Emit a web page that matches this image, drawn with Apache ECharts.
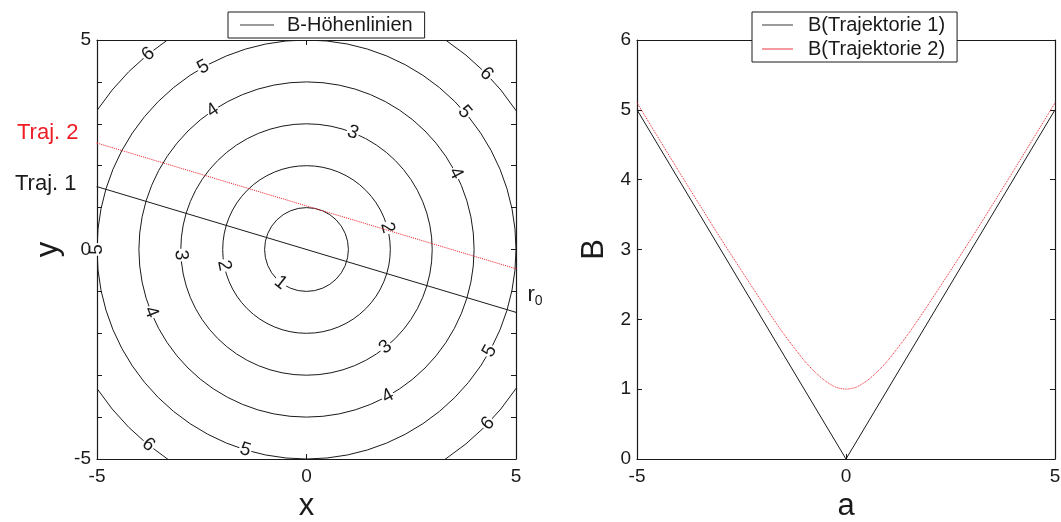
<!DOCTYPE html>
<html>
<head>
<meta charset="utf-8">
<script src="https://cdn.jsdelivr.net/npm/echarts@6/dist/echarts.min.js"></script>
<style>
  html, body { margin: 0; padding: 0; background: #fff; }
  #chart { width: 1061px; height: 522px; }
</style>
</head>
<body>
<div id="chart"></div>
<script>
// B field contour levels (B = |r|), drawn as circles around the origin
const contourLevels = [1, 2, 3, 4, 5, 6];

// inline contour labels: level value and polar angle (deg) where each sits on its contour
const contourLabelLevels = [6, 5, 4, 3, 6, 5, 4, 2, 5, 3, 2, 1, 4, 3, 4, 5, 6, 6, 5];
const contourLabelAngles = [129, 119.5, 124, 68.4, 44.3, 41, 27, 15, 180, 182.5, 191, 232, 202, -51, -61, -29, -43.8, 231, 253];

// trajectories through the field (x, y endpoints)
const traj1X = [-5, 5];
const traj1Y = [1.5, -1.5];
const traj2X = [-5, 5];
const traj2Y = [2.54, -0.46];

// B along each trajectory as a function of path parameter a
const traj1A = [-5, 0, 5];
const traj1B = [5, 0, 5];
const traj2A = [-5, -4, -3, -2, -1.5, -1, -0.75, -0.5, -0.25, 0, 0.25, 0.5, 0.75, 1, 1.5, 2, 3, 4, 5];
const traj2B = [5.1, 4.12, 3.16, 2.24, 1.8, 1.41, 1.25, 1.12, 1.03, 1.0, 1.03, 1.12, 1.25, 1.41, 1.8, 2.24, 3.16, 4.12, 5.1];

const FONT = '"Liberation Sans", Arial, Helvetica, sans-serif';
const INK = '#1a1a1a';
const RED = '#ee1c25';

const zip = (xs, ys) => xs.map((x, i) => [x, ys[i]]);

function frameAxis(extra) {
  return Object.assign({
    type: 'value',
    axisLine: { show: true, onZero: false, lineStyle: { color: INK, width: 1.2 } },
    axisTick: { show: true, inside: true, length: 5, lineStyle: { color: INK } },
    splitLine: { show: false },
    axisLabel: { show: false }
  }, extra);
}
const tickLabel = (fmt, margin) => ({ show: true, color: INK, fontFamily: FONT, fontSize: 19, margin: margin, formatter: fmt });
const axisName = { color: INK, fontFamily: FONT, fontSize: 31 };

const chart = echarts.init(document.getElementById('chart'), null, { renderer: 'canvas' });

chart.setOption({
  animation: false,
  backgroundColor: '#fff',
  grid: [
    { left: 97, top: 40, width: 419, height: 419, outerBoundsMode: 'none' },
    { left: 637, top: 40, width: 418, height: 419, outerBoundsMode: 'none' }
  ],
  legend: [
    {
      data: [{ name: 'B-Höhenlinien', icon: 'rect', itemStyle: { color: '#7a7a7a' } }],
      left: 228, top: 12,
      itemWidth: 34, itemHeight: 1.5,
      padding: [3, 12, 3, 12],
      borderColor: INK, borderWidth: 1, backgroundColor: '#fff',
      textStyle: { color: INK, fontFamily: FONT, fontSize: 20, padding: [0, 0, 0, 8] }
    },
    {
      data: [
        { name: 'B(Trajektorie 1)', icon: 'rect', itemStyle: { color: '#7a7a7a' } },
        { name: 'B(Trajektorie 2)', icon: 'rect', itemStyle: { color: '#f27a80' } }
      ],
      left: 752, top: 12, orient: 'vertical',
      itemWidth: 31, itemHeight: 1.5, itemGap: 4,
      padding: [3, 12, 3, 10],
      borderColor: INK, borderWidth: 1, backgroundColor: '#fff',
      textStyle: { color: INK, fontFamily: FONT, fontSize: 20, padding: [0, 0, 0, 10] }
    }
  ],
  xAxis: [
    frameAxis({ gridIndex: 0, position: 'bottom', min: -5, max: 5, interval: 5,
      axisLabel: tickLabel(v => v, 8),
      name: 'x', nameLocation: 'middle', nameGap: 32, nameTextStyle: axisName }),
    frameAxis({ gridIndex: 0, position: 'top', min: -5, max: 5, interval: 5 }),
    frameAxis({ gridIndex: 1, position: 'bottom', min: -5, max: 5, interval: 5,
      axisLabel: tickLabel(v => v, 8),
      name: 'a', nameLocation: 'middle', nameGap: 32, nameTextStyle: axisName }),
    frameAxis({ gridIndex: 1, position: 'top', min: -5, max: 5, interval: 5 })
  ],
  yAxis: [
    frameAxis({ gridIndex: 0, position: 'left', min: -5, max: 5, interval: 1,
      axisLabel: tickLabel(v => (v % 5 === 0 ? v : ''), 6),
      name: 'y', nameLocation: 'middle', nameGap: 33, nameTextStyle: axisName }),
    frameAxis({ gridIndex: 0, position: 'right', min: -5, max: 5, interval: 1 }),
    frameAxis({ gridIndex: 1, position: 'left', min: 0, max: 6, interval: 1,
      axisLabel: tickLabel(v => v, 6),
      name: 'B', nameLocation: 'middle', nameGap: 27, nameTextStyle: axisName }),
    frameAxis({ gridIndex: 1, position: 'right', min: 0, max: 6, interval: 1 })
  ],
  series: [
    {
      name: 'B-Höhenlinien',
      type: 'custom',
      xAxisIndex: 0, yAxisIndex: 0,
      clip: true,
      itemStyle: { color: '#7a7a7a' },
      data: contourLevels.map(v => [v, 0]),
      renderItem(params, api) {
        const level = api.value(0);
        const c = api.coord([0, 0]);
        const s = api.size([level, level]);
        return {
          type: 'circle',
          shape: { cx: c[0], cy: c[1], r: s[0] },
          style: { fill: 'none', stroke: INK, lineWidth: 1 }
        };
      }
    },
    {
      name: 'contour-labels',
      type: 'custom',
      xAxisIndex: 0, yAxisIndex: 0,
      clip: false,
      data: contourLabelLevels.map((v, i) => [v, contourLabelAngles[i]]),
      renderItem(params, api) {
        const level = api.value(0);
        const ang = api.value(1) * Math.PI / 180;
        const p = api.coord([level * Math.cos(ang), level * Math.sin(ang)]);
        let rot = ang + Math.PI / 2;
        while (rot > Math.PI / 2 + 1e-6) rot -= Math.PI;
        while (rot <= -Math.PI / 2) rot += Math.PI;
        return {
          type: 'text',
          x: p[0], y: p[1],
          rotation: rot,
          style: {
            text: String(level),
            font: '19px ' + FONT,
            fill: INK,
            align: 'center',
            verticalAlign: 'middle',
            backgroundColor: '#fff',
            padding: [-2, 1, -2, 1]
          }
        };
      }
    },
    {
      name: 'Traj. 1',
      type: 'line',
      xAxisIndex: 0, yAxisIndex: 0,
      symbol: 'circle', symbolSize: 1,
      itemStyle: { color: INK },
      lineStyle: { color: INK, width: 1 },
      data: zip(traj1X, traj1Y).map((p, i) => i === 0
        ? { value: p, label: { show: true, position: 'left', distance: 20, offset: [0, -3],
              formatter: 'Traj. 1', color: INK, fontFamily: FONT, fontSize: 22 } }
        : { value: p, label: { show: true, position: 'right', distance: 11, offset: [0, -17],
              formatter: '{r|r}{s|0}',
              rich: {
                r: { color: INK, fontFamily: FONT, fontSize: 22 },
                s: { color: INK, fontFamily: FONT, fontSize: 14, padding: [12, 0, 0, 0] }
              } } })
    },
    {
      name: 'Traj. 2',
      type: 'line',
      xAxisIndex: 0, yAxisIndex: 0,
      symbol: 'circle', symbolSize: 1,
      itemStyle: { color: RED },
      lineStyle: { color: RED, width: 1, type: 'dotted' },
      data: zip(traj2X, traj2Y).map((p, i) => i === 0
        ? { value: p, label: { show: true, position: 'left', distance: 18, offset: [0, -10],
              formatter: 'Traj. 2', color: RED, fontFamily: FONT, fontSize: 22 } }
        : p)
    },
    {
      name: 'B(Trajektorie 1)',
      type: 'line',
      xAxisIndex: 2, yAxisIndex: 2,
      symbol: 'none',
      color: INK,
      lineStyle: { color: INK, width: 1 },
      data: zip(traj1A, traj1B)
    },
    {
      name: 'B(Trajektorie 2)',
      type: 'line',
      xAxisIndex: 2, yAxisIndex: 2,
      symbol: 'none',
      smooth: 0.25,
      color: RED,
      lineStyle: { color: RED, width: 1, type: 'dotted' },
      data: zip(traj2A, traj2B)
    }
  ]
});
</script>
</body>
</html>
